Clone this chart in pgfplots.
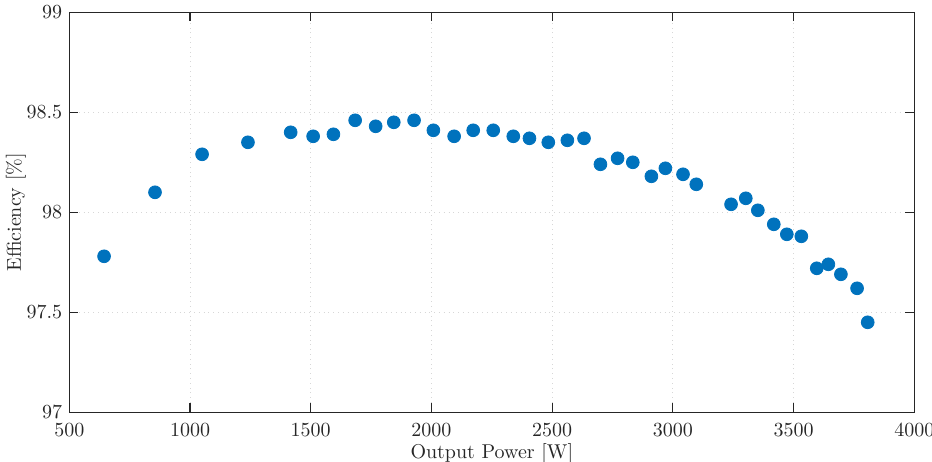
\documentclass[border=0pt]{standalone}
\usepackage{pgfplots}
\pgfplotsset{compat=1.18}
\usetikzlibrary{calc}
\definecolor{mblue}{RGB}{0,114,189}
\definecolor{axgray}{RGB}{38,38,38}
\definecolor{gridgray}{RGB}{215,215,215}
\begin{document}
\begin{tikzpicture}
\begin{axis}[
  scale only axis,
  width=422.5pt, height=200pt,
  xmin=500, xmax=4000, ymin=97, ymax=99,
  xtick={500,1000,...,4000},
  ytick={97,97.5,98,98.5,99},
  yticklabels={97,97.5,98,98.5,99},
  scaled x ticks=false,
  xticklabel style={/pgf/number format/1000 sep={}, yshift=-2pt},
  tick align=inside,
  tick pos=both,
  major tick length=4.5pt,
  axis line style={axgray, line width=0.6pt},
  every tick/.style={axgray, line width=0.6pt},
  grid=major,
  major grid style={gridgray, dotted, line width=0.5pt},
  tick label style={font=\fontsize{10}{12}\selectfont, text=axgray},
  label style={font=\fontsize{10}{12}\selectfont, text=axgray},
  xlabel={Output Power [W]},
  ylabel={Efficiency [\%]},
  xlabel style={yshift=3pt},
  ylabel style={yshift=-6.5pt},
]
\addplot[only marks, mark=*, mark size=3.2pt, mark options={fill=mblue, draw=mblue}] coordinates {
(644,97.78) (855,98.10) (1050,98.29) (1240,98.35) (1417,98.40) (1510,98.38)
(1594,98.39) (1684,98.46) (1769,98.43) (1844,98.45) (1928,98.46) (2008,98.41)
(2094,98.38) (2173,98.41) (2256,98.41) (2339,98.38) (2406,98.37) (2484,98.35)
(2563,98.36) (2632,98.37) (2700,98.24) (2771,98.27) (2834,98.25) (2911,98.18)
(2969,98.22) (3042,98.19) (3097,98.14) (3241,98.04) (3302,98.07) (3352,98.01)
(3418,97.94) (3472,97.89) (3532,97.88) (3596,97.72) (3644,97.74) (3696,97.69)
(3763,97.62) (3807,97.45)
};
\end{axis}
\pgfresetboundingbox
\path ($(current axis.south west)+(-34.65pt,-24.35pt)$) rectangle ($(current axis.north east)+(8.85pt,6.15pt)$);
\end{tikzpicture}
\end{document}
